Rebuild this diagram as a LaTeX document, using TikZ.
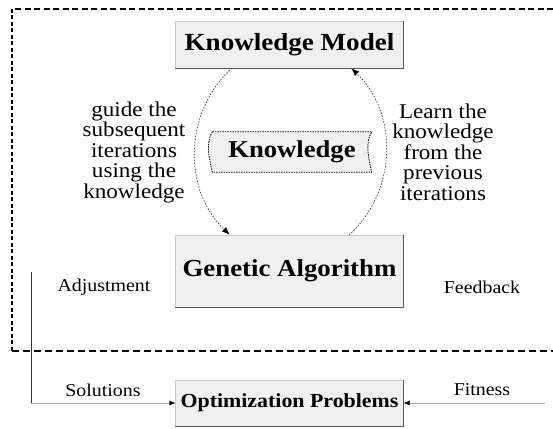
\documentclass[tikz,border=0pt]{standalone}
\usepackage{fontspec}
\setmainfont{Liberation Serif}[FakeStretch=1.1]
\usetikzlibrary{arrows.meta}
\definecolor{boxfill}{RGB}{240,240,240}

\begin{document}
\begin{tikzpicture}[x=1pt,y=1pt,
  procbox/.style={fill=boxfill,draw=gray!40,minimum width=228pt,inner sep=0pt},
  sidetext/.style={align=center,font=\fontsize{21}{20.5}\selectfont},
  flowlabel/.style={font=\fontsize{18.1}{22}\selectfont},
  loop/.style={dash pattern=on 1.5pt off 1.5pt,line width=0.6pt,black!85,-{Latex[black,length=8pt,width=6pt]}},
  feed/.style={gray!70,-{Latex[black,length=6pt,width=5pt]}}]
\useasboundingbox (0,0) rectangle (553,428);

% ============ dashed frame ============
\draw[line width=2.4pt,dash pattern=on 6pt off 3.5pt] (553,419) -- (12,419);
\draw[line width=2.4pt,dash pattern=on 4pt off 2.5pt] (12,419) -- (12,77);
\draw[line width=2.2pt,dash pattern=on 7pt off 4pt] (12,77) -- (553,77);

% ============ boxes ============
\node[procbox,minimum height=47pt,font=\bfseries\fontsize{24.6}{28}\selectfont] (km) at (289.5,383.5) {Knowledge Model};
\node[procbox,minimum height=72pt,font=\bfseries\fontsize{24.4}{28}\selectfont] (ga) at (289.5,157) {Genetic Algorithm};
\node[procbox,minimum height=46pt,font=\bfseries\fontsize{19.9}{24}\selectfont] (op) at (289.5,25) {Optimization Problems};
\foreach \n in {km,ga,op}
  \draw[black!65,line width=1pt] (\n.south west) -- (\n.south east) -- (\n.north east);

% ============ knowledge ============
\node[minimum width=159pt,minimum height=40pt,inner sep=0pt] (kn) at (292,276) {};
\filldraw[fill=boxfill,draw=black,dash pattern=on 1.5pt off 1pt,line width=0.8pt]
  (kn.north west) -- (kn.north east)
  .. controls +(-7,-12) and +(-3,14) .. (kn.south east)
  -- (kn.south west)
  .. controls +(-3,14) and +(-7,-12) .. (kn.north west) -- cycle;
\node[font=\bfseries\fontsize{24.2}{28}\selectfont] at (kn) {Knowledge};

% ============ loop ============
\draw[loop] ([xshift=56.5pt]km.south west) to[bend right=47] ([xshift=54.5pt]ga.north west);
\draw[loop] ([xshift=-54.5pt]ga.north east) to[bend right=47] ([xshift=-52.5pt]km.south east);
\node[sidetext] (guide) at (134,276) {guide the\\subsequent\\iterations\\using the\\knowledge};
\node[sidetext] (learn) at (443,276) {Learn the\\knowledge\\from the\\previous\\iterations};

% ============ problem side ============
\node[flowlabel] (adj) at (104,141) {Adjustment};
\node[flowlabel] (fb) at (482,141) {Feedback};
\node[flowlabel] (sol) at (103,38) {Solutions};
\node[flowlabel] (fit) at (482,38) {Fitness};
\coordinate (adjtop) at (31,156);
\coordinate (fitend) at (545,25);
\draw[black!80] (adjtop) -- (adjtop |- op.west);
\draw[feed] (adjtop |- op.west) -- (op.west);
\draw[feed] (fitend) -- (op.east);

\end{tikzpicture}
\end{document}
